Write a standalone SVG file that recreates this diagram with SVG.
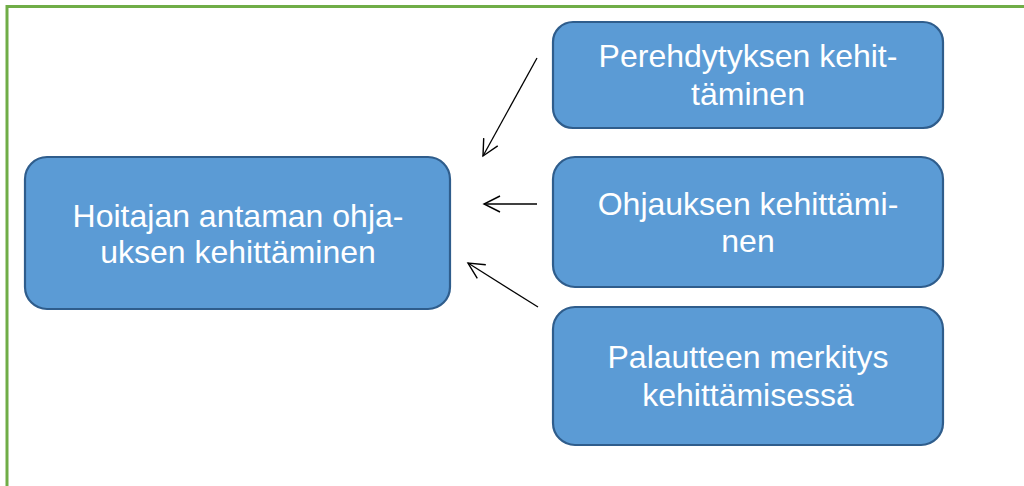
<svg xmlns="http://www.w3.org/2000/svg" width="1024" height="486" viewBox="0 0 1024 486">
<style>
.box{fill:#5B9BD5;stroke:#2F5D8C;stroke-width:2.2}
.t{font-family:"Liberation Sans",Arial,sans-serif;font-size:32px;fill:#fff;text-anchor:middle}
.c{stroke:#000;stroke-width:1.3;fill:none}
</style>
<defs>
<marker id="ah" viewBox="0 0 20 20" refX="18" refY="10" markerWidth="20" markerHeight="20" markerUnits="userSpaceOnUse" orient="auto">
<path d="M2,2 L18,10 L2,18" fill="none" stroke="#000" stroke-width="1.4"/>
</marker>
</defs>
<rect width="1024" height="486" fill="#fff"/>
<path d="M7,486 V6.5 H1024" fill="none" stroke="#70AD47" stroke-width="3"/>
<g id="connectors">
<line class="c" x1="537" y1="58" x2="483" y2="156" marker-end="url(#ah)"/>
<line class="c" x1="537" y1="204" x2="484" y2="204" marker-end="url(#ah)"/>
<line class="c" x1="538" y1="307" x2="468" y2="263" marker-end="url(#ah)"/>
</g>
<g id="n-main">
<rect class="box" x="25" y="157" width="425" height="152" rx="22"/>
<text class="t" x="238" y="227">Hoitajan antaman ohja-</text>
<text class="t" x="238" y="263">uksen kehittäminen</text>
</g>
<g id="n-perehdytys">
<rect class="box" x="553" y="22" width="390" height="106" rx="20"/>
<text class="t" x="748" y="67">Perehdytyksen kehit-</text>
<text class="t" x="748" y="105">täminen</text>
</g>
<g id="n-ohjaus">
<rect class="box" x="553" y="157" width="390" height="130" rx="22"/>
<text class="t" x="748" y="215">Ohjauksen kehittämi-</text>
<text class="t" x="748" y="252">nen</text>
</g>
<g id="n-palaute">
<rect class="box" x="553" y="307" width="390" height="138" rx="22"/>
<text class="t" x="748" y="368">Palautteen merkitys</text>
<text class="t" x="748" y="406">kehittämisessä</text>
</g>
</svg>
